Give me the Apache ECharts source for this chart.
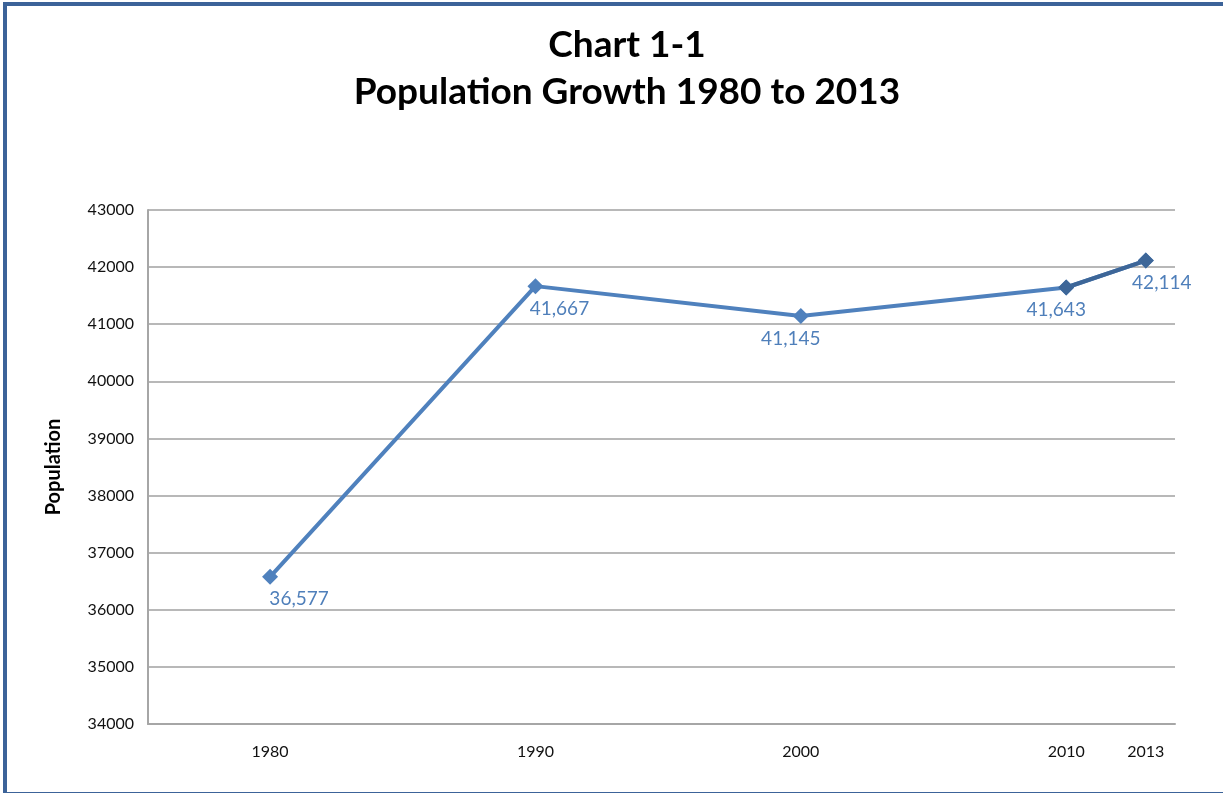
<!DOCTYPE html>
<html>
<head>
<meta charset="utf-8">
<script src="https://cdn.jsdelivr.net/npm/echarts@6/dist/echarts.min.js"></script>
<style>
    html, body { margin: 0; padding: 0; background: #fff; overflow: hidden; }
    #frame {
        position: absolute; left: 3px; top: 2px; width: 1240px; height: 786px;
        border-top: 4px solid #3c6399; border-left: 4px solid #3c6399; border-bottom: 5px solid #3c6399;
    }
    #main { position: absolute; left: 0; top: 0; width: 1223px; height: 793px; }
</style>
</head>
<body>
<div id="frame"></div>
<div id="main"></div>
<script>
    // 数据
    var years = [1980, 1990, 2000, 2010, 2013];
    var population = [36577, 41667, 41145, 41643, 42114];
    var yTicks = [34000, 35000, 36000, 37000, 38000, 39000, 40000, 41000, 42000, 43000];

    // 标签偏移 (px)
    var labelShift = [29, 24, -10, -10, 16];

    var fontName = 'Lato, "Open Sans", sans-serif';

    var mainData = [];
    var tailData = [];
    for (var i = 0; i < years.length; i++) {
        mainData.push({
            value: [years[i], population[i]],
            label: { offset: [labelShift[i], 0] }
        });
        if (i >= years.length - 2) {
            tailData.push([years[i], population[i]]);
        }
    }

    var titleStyle = {
        fill: '#000',
        fontFamily: fontName,
        fontWeight: 'bold',
        fontSize: 37,
        textAlign: 'center',
        textVerticalAlign: 'middle'
    };

    var myChart = echarts.init(document.getElementById('main'));
    var option = {
        animation: false,
        graphic: [
            { type: 'text', left: null, x: 627, y: 45, style: Object.assign({ text: 'Chart 1-1' }, titleStyle) },
            { type: 'text', x: 627, y: 92, style: Object.assign({ text: 'Population Growth 1980 to 2013' }, titleStyle) }
        ],
        grid: {
            left: 148,
            right: 48,
            top: 210,
            bottom: 69
        },
        xAxis: {
            type: 'value',
            min: 1975.4,
            max: 2014.1,
            splitLine: { show: false },
            axisLine: { lineStyle: { color: '#a6a6a6', width: 2 } },
            axisTick: { show: false },
            axisLabel: {
                customValues: years,
                margin: 20,
                color: '#111',
                fontFamily: fontName,
                fontSize: 16,
                formatter: function (v) { return String(v); }
            }
        },
        yAxis: {
            type: 'value',
            min: yTicks[0],
            max: yTicks[yTicks.length - 1],
            interval: 1000,
            name: 'Population',
            nameLocation: 'middle',
            nameGap: 84,
            nameTextStyle: {
                color: '#000',
                fontFamily: fontName,
                fontWeight: 'bold',
                fontSize: 20
            },
            axisLine: { show: true, lineStyle: { color: '#a6a6a6', width: 2 } },
            axisTick: { show: false },
            splitLine: { lineStyle: { color: '#a0a0a0', width: 1.5 } },
            axisLabel: {
                margin: 14,
                color: '#111',
                fontFamily: fontName,
                fontSize: 16,
                formatter: function (v) { return String(v); }
            }
        },
        series: [{
            type: 'line',
            data: mainData,
            symbol: 'diamond',
            symbolSize: 16,
            lineStyle: { color: '#4f81bd', width: 4 },
            itemStyle: { color: '#4f81bd' },
            label: {
                show: true,
                position: 'bottom',
                distance: 5,
                color: '#4f7fba',
                fontFamily: fontName,
                fontSize: 19,
                formatter: function (p) {
                    return p.value[1].toLocaleString('en-US');
                }
            }
        }, {
            type: 'line',
            data: tailData,
            symbol: 'diamond',
            symbolSize: 16,
            lineStyle: { color: '#3d6698', width: 4 },
            itemStyle: { color: '#3d6698' },
            label: { show: false }
        }]
    };
    myChart.setOption(option);
</script>
</body>
</html>
